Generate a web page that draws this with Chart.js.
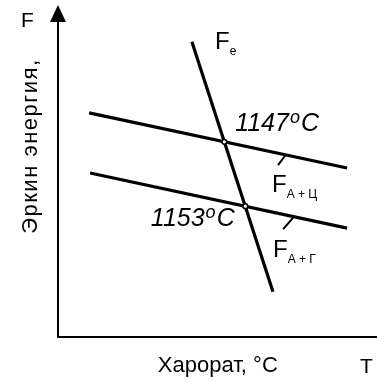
<!DOCTYPE html>
<html>
<head>
<meta charset="utf-8">
<script src="https://cdn.jsdelivr.net/npm/chart.js@4"></script>
<style>
  html, body { margin: 0; padding: 0; background: #fff; }
  #wrap { position: relative; width: 377px; height: 381px; }
</style>
</head>
<body>
<div id="wrap"><canvas id="diagram"></canvas></div>
<script>
// schematic units, 0..100 on both axes (no real scale on the diagram)
const feLine = [{x: 42.1, y: 88.9}, {x: 67.6, y: 13.6}];
const faCLine = [{x: 9.8, y: 67.5}, {x: 90.9, y: 50.9}];
const faGLine = [{x: 10.1, y: 49.4}, {x: 90.9, y: 32.8}];
const faCLeader = [{x: 69.2, y: 51.8}, {x: 71.4, y: 54.6}];
const faGLeader = [{x: 70.8, y: 32.5}, {x: 73.9, y: 35.9}];
const crossings = [{x: 52.3, y: 58.8}, {x: 58.9, y: 39.4}];
const crossTemps = ["1147", "1153"];
const axisTitles = ["Эркин энергия,", "Харорат, °C"];
const axisLetters = ["F", "T"];

const FONT = '"Liberation Sans", Arial, sans-serif';

function seg(data, width) {
    return {
        data: data,
        showLine: true,
        borderColor: "#000",
        borderWidth: width,
        pointRadius: 0,
        order: 1
    };
}

// axes with arrow + all the lettering
const schemePlugin = {
    id: "scheme",
    beforeDatasetsDraw(chart) {
        const {ctx, scales: {x, y}} = chart;
        const x0 = x.getPixelForValue(0);
        const y0 = y.getPixelForValue(0);
        const yTop = y.getPixelForValue(100);
        ctx.save();
        ctx.strokeStyle = "#000";
        ctx.lineWidth = 2;
        ctx.beginPath();
        ctx.moveTo(x0, y0);
        ctx.lineTo(x0, yTop + 10);
        ctx.moveTo(x0 - 1, y0);
        ctx.lineTo(chart.width, y0);
        ctx.stroke();
        ctx.fillStyle = "#000";
        ctx.beginPath();
        ctx.moveTo(x0, yTop);
        ctx.lineTo(x0 - 8, yTop + 17);
        ctx.lineTo(x0 + 8, yTop + 17);
        ctx.closePath();
        ctx.fill();
        ctx.restore();
    },
    afterDraw(chart) {
        const {ctx, scales: {x, y}} = chart;
        const px = v => x.getPixelForValue(v);
        const py = v => y.getPixelForValue(v);
        ctx.save();
        ctx.fillStyle = "#000";
        ctx.textBaseline = "alphabetic";
        ctx.textAlign = "left";

        ctx.font = "21px " + FONT;
        ctx.fillText(axisLetters[0], px(-11.6), py(93.4));
        ctx.fillText(axisLetters[1], px(95.0), py(-10.8));
        ctx.font = "22px " + FONT;
        ctx.fillText(axisTitles[1], px(31.4), py(-10.5));

        ctx.save();
        ctx.translate(px(-6.6), py(57.5));
        ctx.rotate(-Math.PI / 2);
        ctx.textAlign = "center";
        ctx.letterSpacing = "1.5px";
        ctx.fillText(axisTitles[0], 0, 0);
        ctx.restore();

        // F with subscript
        const fSub = (sub, vx, vy) => {
            const lx = px(vx), ly = py(vy);
            ctx.font = "24px " + FONT;
            ctx.fillText("F", lx, ly);
            const w = ctx.measureText("F").width;
            ctx.font = "12px " + FONT;
            ctx.fillText(sub, lx + w, ly + 6);
        };
        fSub("e", 49.4, 86.7);
        fSub("A + Ц", 67.3, 43.7);
        fSub("A + Г", 67.6, 24.1);

        // temperatures at the crossings
        const temp = (t, vx, vy) => {
            let lx = px(vx);
            const ly = py(vy);
            ctx.font = "italic 25px " + FONT;
            ctx.fillText(t, lx, ly);
            lx += ctx.measureText(t).width + 1;
            ctx.font = "italic 18px " + FONT;
            ctx.fillText("o", lx, ly - 8);
            lx += ctx.measureText("o").width + 1;
            ctx.font = "italic 25px " + FONT;
            ctx.fillText("C", lx, ly);
        };
        temp(crossTemps[0], 55.7, 61.9);
        temp(crossTemps[1], 29.2, 33.4);
        ctx.restore();
    }
};

const ctx = document.getElementById("diagram").getContext("2d");

const diagram = new Chart(ctx, {
    type: "scatter",
    data: {
        datasets: [
            {
                data: crossings,
                pointRadius: 2.4,
                pointBackgroundColor: "#fff",
                pointBorderColor: "#000",
                pointBorderWidth: 1.5,
                order: 0
            },
            seg(feLine, 3.2),
            seg(faCLine, 3.2),
            seg(faGLine, 3.2),
            seg(faCLeader, 2),
            seg(faGLeader, 2)
        ]
    },
    options: {
        responsive: true,
        maintainAspectRatio: false,
        animation: false,
        layout: {
            autoPadding: false,
            padding: {left: 58, right: 1, top: 5, bottom: 44}
        },
        plugins: {
            legend: {display: false},
            tooltip: {enabled: false}
        },
        scales: {
            x: {type: "linear", min: 0, max: 100, display: false},
            y: {type: "linear", min: 0, max: 100, display: false}
        }
    },
    plugins: [schemePlugin]
});
</script>
</body>
</html>
